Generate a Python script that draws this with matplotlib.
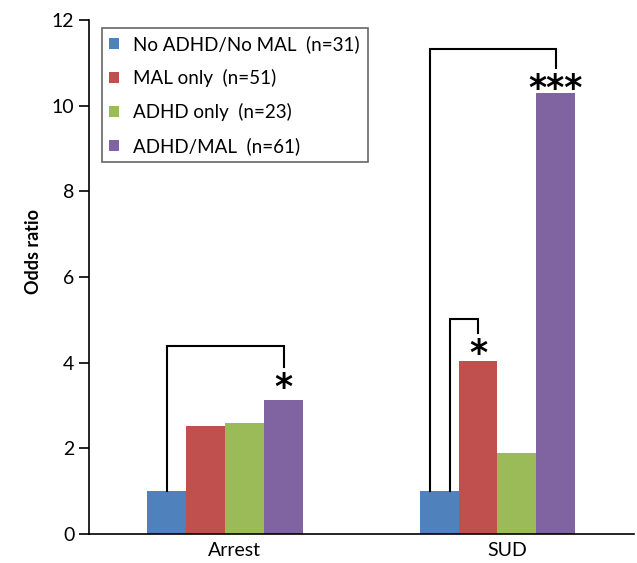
import numpy as np
import matplotlib.pyplot as plt

# Data
outcomes = ["Arrest", "SUD"]
groups = ["No ADHD/No MAL  (n=31)", "MAL only  (n=51)",
          "ADHD only  (n=23)", "ADHD/MAL  (n=61)"]
odds = {
    "No ADHD/No MAL  (n=31)": [1.0, 1.0],
    "MAL only  (n=51)": [2.52, 4.05],
    "ADHD only  (n=23)": [2.58, 1.9],
    "ADHD/MAL  (n=61)": [3.13, 10.3],
}
colors = ["#4F81BD", "#C0504D", "#9BBB59", "#8064A2"]

plt.rcParams['font.family'] = ['Lato', 'DejaVu Sans']

fig = plt.figure(figsize=(6.37, 5.63), dpi=100)
ax = fig.add_axes([0.1397, 0.0515, 0.855, 0.913])

x = np.arange(len(outcomes))
w = 0.143
for i, g in enumerate(groups):
    ax.bar(x + (i - 1.5) * w, odds[g], width=w, color=colors[i], label=g)

ax.set_xlim(-0.5, 1.5)
ax.set_ylim(0, 12)
ax.set_yticks(range(0, 13, 2))
ax.set_xticks(x + 0.035)
ax.set_xticklabels(outcomes, fontsize=14)
ax.tick_params(axis='x', length=0, pad=6)
ax.tick_params(axis='y', labelsize=14, length=7, width=1.2, direction='out')
ax.set_ylabel("Odds ratio", fontsize=13, fontweight='bold')
ax.yaxis.set_label_coords(-0.086, 0.549)
for s in ["top", "right"]:
    ax.spines[s].set_visible(False)
ax.spines["left"].set_linewidth(1.2)
ax.spines["bottom"].set_linewidth(1.2)

# significance brackets
def bracket(x0, x1, y0, ytop, y1, stars):
    ax.plot([x0, x0, x1, x1], [y0, ytop, ytop, y1], color="black", lw=1.5,
            solid_joinstyle='miter')
    ax.text(x1, y1 - 0.1, stars, ha='center', va='top', fontsize=25,
            fontweight='bold', family='DejaVu Sans')

bx = x - 1.5 * w
px = x + 1.5 * w
rx = x - 0.5 * w
bracket(bx[0], px[0], odds[groups[0]][0], 4.38, 3.9, "*")
bracket(bx[1] - 0.035, px[1], odds[groups[0]][1], 11.33, 10.88, "***")
bracket(bx[1] + 0.04, rx[1], odds[groups[0]][1], 5.02, 4.69, "*")

leg = ax.legend(loc='upper left', bbox_to_anchor=(0.023, 0.985), fontsize=13.5,
                frameon=True, fancybox=False, edgecolor='#404040',
                handlelength=0.55, handleheight=0.55, handletextpad=0.75,
                labelspacing=0.85, borderpad=0.4, borderaxespad=0)
leg.get_frame().set_linewidth(1.2)

fig.savefig("out.png", dpi=100)
